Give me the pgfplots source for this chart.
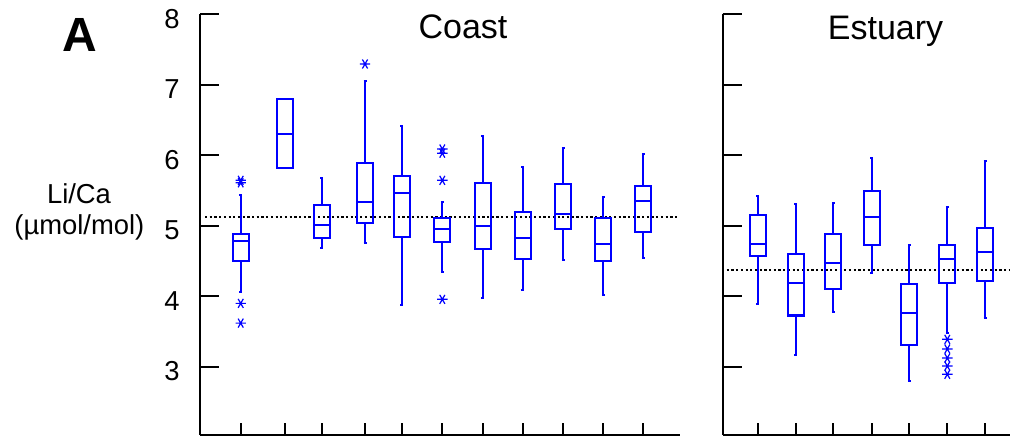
\documentclass[border=0pt]{standalone}
\usepackage{fontspec}
\setmainfont{Liberation Sans}
\usepackage{pgfplots}
\pgfplotsset{compat=1.18}
\usepgfplotslibrary{statistics}
\pgfplotsset{
  panel/.style={
    scale only axis,
    height=210.35pt,
    ymin=2.033, ymax=8,
    axis x line=bottom, axis y line=left,
    axis line style={-, line width=1pt, black},
    tick style={black, line width=1pt},
    tick align=inside,
    major tick length=9.5pt,
    xtick style={/pgfplots/major tick length=6pt},
    ytick={3,4,5,6,7,8},
    xticklabels={},
    clip=false,
    /pgf/number format/assume math mode=true,
    yticklabel style={font=\fontsize{13.7}{16}\selectfont, inner sep=0pt, xshift=-10pt, yshift=-2.2pt},
  },
  boxbl/.style={blue, line width=1.15pt, solid, mark=asterisk, mark size=2.6pt,
    mark options={line width=0.6pt, solid, rotate=90},
    boxplot/draw direction=y,
    boxplot/box extend=0.4, boxplot/whisker extend=0.075},
  refline/.style={black, line width=1.1pt, dash pattern=on 1.1pt off 1.25pt, mark=none},
}
\begin{document}
\begin{tikzpicture}
\useasboundingbox (0,0) rectangle (505pt,219pt);
% ---------------- Coast ----------------
\begin{axis}[panel,
  at={(100pt,1.5pt)}, anchor=south west,
  width=240pt, xmin=0, xmax=12,
  xtick={1.0175,2.125,3.0425,4.125,5.0425,6.0575,7.0675,8.0675,9.0825,10.0825,11.0825},
]
\addplot[refline] coordinates {(0.125,5.125) (11.95,5.125)};
\addplot[boxbl, boxplot prepared={draw position=1.0175, lower whisker=4.057, lower quartile=4.501, median=4.784, upper quartile=4.879, upper whisker=5.437}]
  table[row sep=\\, y index=0]{d\\5.61\\5.645\\3.90\\3.62\\};
\addplot[boxbl, boxplot prepared={draw position=2.125, lower whisker=5.816, lower quartile=5.816, median=6.306, upper quartile=6.799, upper whisker=6.799}]
  coordinates {};
\addplot[boxbl, boxplot prepared={draw position=3.0425, lower whisker=4.681, lower quartile=4.823, median=5.011, upper quartile=5.295, upper whisker=5.674}]
  coordinates {};
\addplot[boxbl, boxplot prepared={draw position=4.125, lower whisker=4.756, lower quartile=5.035, median=5.338, upper quartile=5.891, upper whisker=7.058}]
  table[row sep=\\, y index=0]{d\\7.295\\};
\addplot[boxbl, boxplot prepared={draw position=5.0425, lower whisker=3.877, lower quartile=4.837, median=5.461, upper quartile=5.706, upper whisker=6.416}]
  coordinates {};
\addplot[boxbl, boxplot prepared={draw position=6.0575, lower whisker=4.340, lower quartile=4.775, median=4.950, upper quartile=5.115, upper whisker=5.342}]
  table[row sep=\\, y index=0]{d\\6.089\\6.03\\5.645\\3.957\\};
\addplot[boxbl, boxplot prepared={draw position=7.0675, lower whisker=3.980, lower quartile=4.667, median=5.001, upper quartile=5.611, upper whisker=6.274}]
  coordinates {};
\addplot[boxbl, boxplot prepared={draw position=8.0675, lower whisker=4.085, lower quartile=4.529, median=4.827, upper quartile=5.200, upper whisker=5.838}]
  coordinates {};
\addplot[boxbl, boxplot prepared={draw position=9.0825, lower whisker=4.511, lower quartile=4.959, median=5.163, upper quartile=5.593, upper whisker=6.104}]
  coordinates {};
\addplot[boxbl, boxplot prepared={draw position=10.0825, lower whisker=4.023, lower quartile=4.501, median=4.738, upper quartile=5.106, upper whisker=5.408}]
  coordinates {};
\addplot[boxbl, boxplot prepared={draw position=11.0825, lower whisker=4.543, lower quartile=4.912, median=5.348, upper quartile=5.565, upper whisker=6.014}]
  coordinates {};
\end{axis}
% ---------------- Estuary ----------------
\begin{axis}[panel,
  at={(361.35pt,1.5pt)}, anchor=south west,
  width=143.65pt, xmin=0, xmax=7.1825,
  xtick={0.875,1.825,2.765,3.725,4.665,5.615,6.5575},
  yticklabels={},
]
\addplot[refline] coordinates {(0.1,4.377) (7.1825,4.377)};
\addplot[boxbl, boxplot prepared={draw position=0.875, lower whisker=3.887, lower quartile=4.567, median=4.746, upper quartile=5.158, upper whisker=5.427}]
  coordinates {};
\addplot[boxbl, boxplot prepared={draw position=1.825, lower whisker=3.167, lower quartile=3.730, median=4.193, upper quartile=4.600, upper whisker=5.309}]
  coordinates {};
\addplot[boxbl, boxplot prepared={draw position=2.765, lower whisker=3.777, lower quartile=4.108, median=4.477, upper quartile=4.879, upper whisker=5.328}]
  coordinates {};
\addplot[boxbl, boxplot prepared={draw position=3.725, lower whisker=4.335, lower quartile=4.723, median=5.129, upper quartile=5.489, upper whisker=5.966}]
  coordinates {};
\addplot[boxbl, boxplot prepared={draw position=4.665, lower whisker=2.799, lower quartile=3.313, median=3.759, upper quartile=4.179, upper whisker=4.728}]
  coordinates {};
\addplot[boxbl, boxplot prepared={draw position=5.615, lower whisker=3.475, lower quartile=4.184, median=4.525, upper quartile=4.732, upper whisker=5.271}]
  table[row sep=\\, y index=0]{d\\3.390\\3.253\\3.125\\3.011\\2.894\\};
\addplot[boxbl, boxplot prepared={draw position=6.5575, lower whisker=3.692, lower quartile=4.217, median=4.624, upper quartile=4.973, upper whisker=5.923}]
  coordinates {};
\end{axis}
% ---------------- texts ----------------
\node[anchor=base, inner sep=0pt, font=\fontsize{17}{20}\selectfont] at (231.5pt,199.85pt) {Coast};
\node[anchor=base, inner sep=0pt, font=\fontsize{17}{20}\selectfont] at (442.75pt,199pt) {Estuary};
\node[anchor=base, inner sep=0pt, font=\fontsize{24}{28}\bfseries] at (40pt,193pt) {A};
\node[anchor=base, inner sep=0pt, font=\fontsize{13.7}{16}\selectfont] at (39.5pt,117.4pt) {Li/Ca};
\node[anchor=base, inner sep=0pt, font=\fontsize{13.7}{16}\selectfont] at (39.7pt,101.5pt) {(µmol/mol)};
\end{tikzpicture}
\end{document}
